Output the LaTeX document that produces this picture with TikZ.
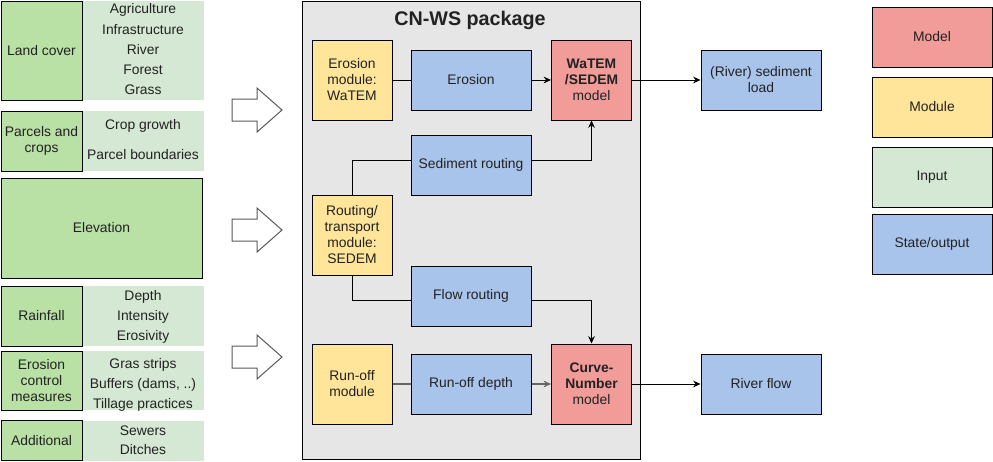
\documentclass[tikz,border=0pt]{standalone}
\usepackage{fontspec}
\setmainfont{Liberation Sans}
\usetikzlibrary{arrows.meta}
\definecolor{cmodel}{HTML}{F19C99}
\definecolor{cmodule}{HTML}{FFE599}
\definecolor{cinlight}{HTML}{D5E8D4}
\definecolor{cindark}{HTML}{B9E0A5}
\definecolor{cstate}{HTML}{A9C4EB}
\definecolor{cpkg}{HTML}{E6E6E6}
\definecolor{ctext}{HTML}{222222}
\definecolor{cgrayline}{HTML}{666666}
\tikzset{
  sz/.style 2 args={minimum width=#1*0.75pt, minimum height=#2*0.75pt},
  base/.style={rectangle, inner sep=0pt, align=center, text=ctext, font=\fontsize{10.4}{12}\selectfont},
  bx/.style={base, draw=black, line width=0.75pt},
  darkin/.style={bx, fill=cindark},
  lightin/.style={base, fill=cinlight},
  item/.style={base},
  modelbox/.style={bx, fill=cmodel, sz={80}{80}},
  modulebox/.style={bx, fill=cmodule, sz={80}{80}},
  statebox/.style={bx, fill=cstate, sz={120}{60}},
  legbox/.style={bx, sz={120}{60}},
  conn/.style={line width=0.75pt, draw=black},
  arr/.style={conn, -{Stealth[length=5.5pt, width=5pt]}},
  grayconn/.style={line width=1.5pt, draw=cgrayline},
  grayarr/.style={grayconn, -{Stealth[length=5.5pt, width=5pt]}},
  blockarrow/.style={draw=black!65, line width=0.75pt, fill=white, line join=miter},
}
\begin{document}
\begin{tikzpicture}[x=0.75pt, y=-0.75pt]
\useasboundingbox (0,0) rectangle (993,461);

% ---- Inputs (left column)
\node[lightin, sz={122}{99}] (lcl) at (143,50.5) {};
\node[darkin, sz={81}{99}] (lc) at (41.5,50.5) {Land cover};
\node[item] (lc1) at (143,10) {Agriculture};
\node[item] (lc2) at (143,30) {Infrastructure};
\node[item] (lc3) at (143,50) {River};
\node[item] (lc4) at (143,70) {Forest};
\node[item] (lc5) at (143,90) {Grass};

\node[lightin, sz={122}{60}] (pcl) at (143,141) {};
\node[darkin, sz={81}{60}] (pc) at (41.5,141) {Parcels and\\crops};
\node[item] (pc1) at (143,126) {Crop growth};
\node[item] (pc2) at (143,155) {Parcel boundaries};

\node[darkin, sz={201}{100}] (el) at (101.5,228) {Elevation};

\node[lightin, sz={122}{60}] (rfl) at (143,316) {};
\node[darkin, sz={81}{60}] (rain) at (41.5,316) {Rainfall};
\node[item] (rf1) at (143,297) {Depth};
\node[item] (rf2) at (143,317) {Intensity};
\node[item] (rf3) at (143,337) {Erosivity};

\node[lightin, sz={122}{59}] (ecl) at (143,380.5) {};
\node[darkin, sz={81}{59}] (ec) at (41.5,380.5) {Erosion\\control\\measures};
\node[item] (ec1) at (143,365) {Gras strips};
\node[item] (ec2) at (143,385) {Buffers (dams, ..)};
\node[item] (ec3) at (143,405) {Tillage practices};

\node[lightin, sz={122}{40}] (adl) at (143,440.5) {};
\node[darkin, sz={81}{40}] (ad) at (41.5,440.5) {Additional};
\node[item] (ad1) at (143,431) {Sewers};
\node[item] (ad2) at (143,450) {Ditches};

% ---- block arrows
\foreach \yc in {110,230,357}{
  \draw[blockarrow] (232,\yc-11) -- (257,\yc-11) -- (257,\yc-22) -- (282,\yc) -- (257,\yc+22) -- (257,\yc+11) -- (232,\yc+11) -- cycle;
}

% ---- package
\node[bx, fill=cpkg, sz={338}{458}] (pkg) at (471,230) {};
\node[base, font=\fontsize{14.8}{17}\selectfont\bfseries] (title) at (470,20) {CN-WS package};

\node[modulebox] (em) at (352,80) {Erosion\\module:\\WaTEM};
\node[statebox] (er) at (471,80) {Erosion};
\node[modelbox] (wat) at (591.5,80) {\textbf{WaTEM}\\\textbf{/SEDEM}\\model};
\node[statebox] (sr) at (471,165) {Sediment routing};
\node[modulebox] (rm) at (352,235) {Routing/\\transport\\module:\\SEDEM};
\node[statebox] (fr) at (471,296) {Flow routing};
\node[modulebox] (ro) at (352,384) {Run-off\\module};
\node[statebox] (rd) at (471,384) {Run-off depth};
\node[modelbox] (cn) at (591.5,384) {\textbf{Curve-}\\\textbf{Number}\\model};

\node[statebox] (sl) at (761,80) {(River) sediment\\load};
\node[statebox] (rfo) at (761,384) {River flow};

% ---- connectors
\draw[conn] (em) -- (er);
\draw[arr] (er) -- (wat);
\draw[conn] (rm.north) |- ([yshift=3.75pt]sr.west);
\draw[arr] ([yshift=3.75pt]sr.east) -| (wat.south);
\draw[conn] (rm.south) |- ([yshift=-3pt]fr.west);
\draw[arr] ([yshift=-3pt]fr.east) -| (cn.north);
\draw[grayconn] (ro) -- (rd);
\draw[grayarr] (rd) -- (cn);
\draw[arr] (wat) -- (sl);
\draw[arr] (cn) -- (rfo);

% ---- legend
\node[legbox, fill=cmodel] (lg1) at (932,37) {Model};
\node[legbox, fill=cmodule] (lg2) at (932,107) {Module};
\node[legbox, fill=cinlight] (lg3) at (932,177) {Input};
\node[legbox, fill=cstate] (lg4) at (932,244) {State/output};
\end{tikzpicture}
\end{document}
